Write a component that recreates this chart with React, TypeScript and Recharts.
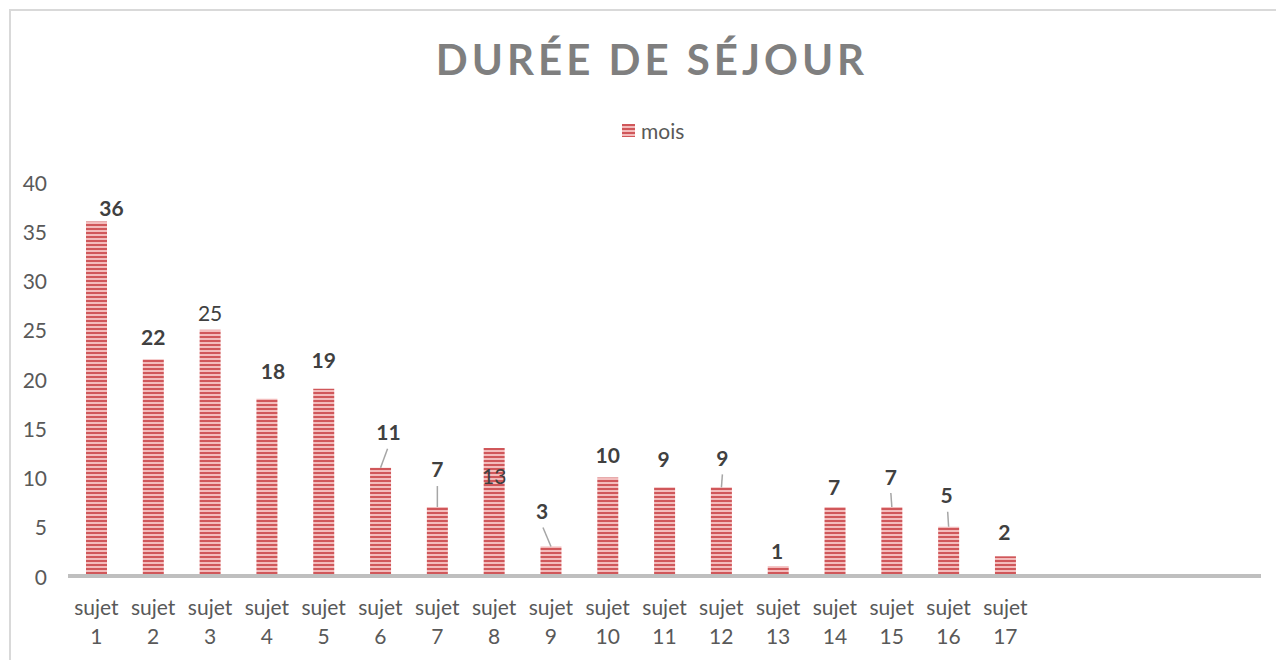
import React from 'react';
import { BarChart, Bar, XAxis, YAxis, LabelList } from 'recharts';

const subjects = [
  'sujet 1', 'sujet 2', 'sujet 3', 'sujet 4', 'sujet 5', 'sujet 6', 'sujet 7',
  'sujet 8', 'sujet 9', 'sujet 10', 'sujet 11', 'sujet 12', 'sujet 13', 'sujet 14',
  'sujet 15', 'sujet 16', 'sujet 17', '', '', '', '',
];
const months = [36, 22, 25, 18, 19, 11, 7, 13, 3, 10, 9, 9, 1, 7, 7, 5, 2, null, null, null, null];
const yTicks = [0, 5, 10, 15, 20, 25, 30, 35, 40];

// where each value label sits relative to the top of its bar: [dx, dy, bold, leader from]
const labelNudge: [number, number, boolean, [number, number] | null][] = [
  [15, -14, true, null],
  [0, -23, true, null],
  [0, -17, false, null],
  [6, -28, true, null],
  [0, -29, true, null],
  [8, -36, true, [7, -19]],
  [0, -39, true, [0, -21]],
  [0, 28, false, null],
  [-9, -36, true, [-8, -19]],
  [0, -23, true, null],
  [-1, -29, true, null],
  [1, -30, true, [1, -13]],
  [-1, -16, true, null],
  [-1, -21, true, null],
  [-1, -31, true, [-1, -14]],
  [-2, -32, true, [-1, -15]],
  [-1, -25, true, null],
];

const FONT = 'Lato, "Open Sans", sans-serif';
const RED = '#d0575a';
const PINK = '#f3bcbc';

const data = subjects.map((s, i) => ({ name: s, mois: months[i] }));

const ValueLabel = (props: any) => {
  const { x, y, width, value, index } = props;
  if (value == null) return null;
  const [dx, dy, bold, leader] = labelNudge[index];
  const cx = x + width / 2;
  return (
    <g>
      {leader && (
        <line x1={cx + leader[0]} y1={y + leader[1]} x2={cx} y2={y} stroke="#a6a6a6" strokeWidth={1.5} />
      )}
      <text
        x={cx + dx}
        y={y + dy}
        textAnchor="middle"
        dominantBaseline="central"
        fontFamily={FONT}
        fontSize={21}
        fontWeight={bold ? 700 : 400}
        fill="#404040"
      >
        {value}
      </text>
    </g>
  );
};

const XTick = (props: any) => {
  const { x, y, payload } = props;
  if (!payload.value) return null;
  const [a, b] = String(payload.value).split(' ');
  return (
    <g>
      <text x={x} y={y + 22} textAnchor="middle" dominantBaseline="central" fontFamily={FONT} fontSize={21} fill="#595959">
        {a}
      </text>
      <text x={x} y={y + 51} textAnchor="middle" dominantBaseline="central" fontFamily={FONT} fontSize={21} fill="#595959">
        {b}
      </text>
    </g>
  );
};

const YTick = (props: any) => {
  const { y, payload } = props;
  return (
    <text x={47} y={y} textAnchor="end" dominantBaseline="central" fontFamily={FONT} fontSize={21} fill="#595959">
      {payload.value}
    </text>
  );
};

export default function App() {
  return (
    <div style={{ position: 'absolute', left: 0, top: 0, width: 1276, height: 660, overflow: 'hidden', background: '#fff' }}>
      <div style={{ position: 'absolute', left: 9, top: 9, width: 1300, height: 700, border: '2px solid #d9d9d9', boxSizing: 'border-box' }} />
      <div
        style={{
          position: 'absolute', left: 0, top: 34, width: 1276, paddingLeft: 28, boxSizing: 'border-box', textAlign: 'center',
          fontFamily: FONT, fontWeight: 700, fontSize: 42, letterSpacing: 4, color: '#7f7f7f',
        }}
      >
        DURÉE DE SÉJOUR
      </div>
      <div
        style={{
          position: 'absolute', left: 622, top: 118, display: 'flex', alignItems: 'center',
          fontFamily: FONT, fontSize: 21, color: '#595959',
        }}
      >
        <svg width={13} height={13} style={{ marginRight: 6 }}>
          <rect width={13} height={13} fill="url(#stripes)" />
        </svg>
        <span>mois</span>
      </div>
      <div style={{ position: 'absolute', left: 0, top: 0 }}>
        <BarChart width={1276} height={660} data={data} margin={{ top: 182, right: 15, bottom: 0, left: 0 }} barCategoryGap={0}>
          <defs>
            <pattern id="stripes" patternUnits="userSpaceOnUse" width={4} height={4}>
              <rect width={4} height={4} fill={PINK} />
              <rect width={4} height={2} fill={RED} />
            </pattern>
          </defs>
          <YAxis width={68} domain={[0, 40]} ticks={yTicks} axisLine={false} tickLine={false} tick={<YTick />} />
          <XAxis
            dataKey="name"
            height={84}
            axisLine={{ stroke: '#bfbfbf', strokeWidth: 4 }}
            tickLine={false}
            tick={<XTick />}
            interval={0}
          />
          <Bar dataKey="mois" fill="url(#stripes)" barSize={21} isAnimationActive={false}>
            <LabelList dataKey="mois" content={<ValueLabel />} />
          </Bar>
        </BarChart>
      </div>
    </div>
  );
}
